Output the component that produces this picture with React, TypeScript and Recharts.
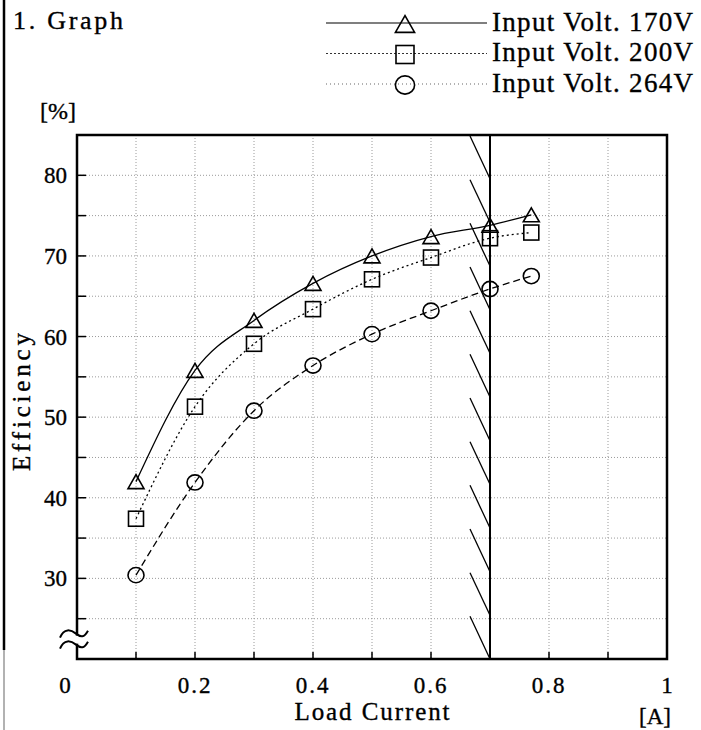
import React from 'react';
import {
  LineChart,
  Line,
  XAxis,
  YAxis,
  CartesianGrid,
  Legend,
  ReferenceArea,
  ReferenceLine,
  ReferenceDot,
  Label,
} from 'recharts';

// values
const loadCurrent = [0.1, 0.2, 0.3, 0.4, 0.5, 0.6, 0.7, 0.77];
const eff170 = [42.0, 55.8, 62.0, 66.6, 70.0, 72.4, 73.8, 75.1];
const eff200 = [37.4, 51.3, 59.1, 63.4, 67.1, 69.8, 72.2, 72.9];
const eff264 = [30.4, 41.9, 50.8, 56.4, 60.3, 63.2, 65.9, 67.5];

const xTicks = [0, 0.1, 0.2, 0.3, 0.4, 0.5, 0.6, 0.7, 0.8, 0.9, 1];
const xTickLabels = ['0', '', '0.2', '', '0.4', '', '0.6', '', '0.8', '', '1'];
const yTicks = [25, 30, 35, 40, 45, 50, 55, 60, 65, 70, 75, 80];
const yTickLabels = ['', '30', '', '40', '', '50', '', '60', '', '70', '', '80'];

const ratedCurrent = 0.7;
const breakLevel = 22.4;

const data = loadCurrent.map((c, i) => ({
  current: c,
  v170: eff170[i],
  v200: eff200[i],
  v264: eff264[i],
}));

const series = [
  { key: 'v170', name: 'Input Volt. 170V', marker: 'triangle', dash: undefined, legendDash: undefined, legendColor: '#000' },
  { key: 'v200', name: 'Input Volt. 200V', marker: 'square', dash: '2 3', legendDash: '2 2', legendColor: '#333' },
  { key: 'v264', name: 'Input Volt. 264V', marker: 'circle', dash: '7 4', legendDash: '1 3', legendColor: '#666' },
];

const FONT = '"Liberation Serif", "DejaVu Serif", serif';
const INK = { fill: '#000', stroke: '#000', strokeWidth: 0.35 };

function Marker({ shape, cx, cy, s = 1 }: { shape: string; cx: number; cy: number; s?: number }) {
  const common = { fill: 'none', stroke: '#000', strokeWidth: 1.6 };
  if (shape === 'triangle') {
    const pts = `${cx},${cy - 7 * s} ${cx - 8 * s},${cy + 7 * s} ${cx + 8 * s},${cy + 7 * s}`;
    return <polygon points={pts} {...common} />;
  }
  if (shape === 'square') {
    return <rect x={cx - 7.5 * s} y={cy - 7.5 * s} width={15 * s} height={15 * s} {...common} />;
  }
  return <ellipse cx={cx} cy={cy} rx={8 * s} ry={7.6 * s} {...common} />;
}

const XTick = (props: any) => {
  const { x, y, index } = props;
  const label = xTickLabels[index];
  const inner = index > 0 && index < xTicks.length - 1;
  return (
    <g>
      {inner && <line x1={x} x2={x} y1={y} y2={y - 7} stroke="#000" strokeWidth={1.5} />}
      {label && (
        <text
          x={index === 0 ? x - 12 : x}
          y={y + 34}
          textAnchor="middle"
          fontFamily={FONT}
          fontSize={23}
          letterSpacing={label.length > 1 ? 2 : 0}
          {...INK}
        >
          {label}
        </text>
      )}
    </g>
  );
};

const YTick = (props: any) => {
  const { x, y, index } = props;
  const label = yTickLabels[index];
  return (
    <g>
      <line x1={x} x2={x + 9} y1={y} y2={y} stroke="#000" strokeWidth={1.5} />
      {label && (
        <text x={x - 10} y={y + 8} textAnchor="end" fontFamily={FONT} fontSize={23} {...INK}>
          {label}
        </text>
      )}
    </g>
  );
};

// vertical limit line with hatching on its left side
const HatchedLimit = (props: any) => {
  const { x1, y1, y2 } = props;
  const top = Math.min(y1, y2);
  const bottom = Math.max(y1, y2);
  const n = 12;
  const step = (bottom - top) / n;
  const hatches = [];
  for (let i = 0; i < n; i++) {
    hatches.push(
      <line
        key={i}
        x1={x1 - 20}
        y1={top + i * step + 1}
        x2={x1}
        y2={top + (i + 1) * step}
        stroke="#000"
        strokeWidth={1.3}
      />
    );
  }
  return (
    <g>
      <line x1={x1} x2={x1} y1={top} y2={bottom} stroke="#000" strokeWidth={2} />
      {hatches}
    </g>
  );
};

// "≈" break mark on the y axis
const AxisBreak = (props: any) => {
  const { cx, cy } = props;
  const wave = (dy: number) =>
    `M${cx - 17},${cy + dy + 2} C${cx - 13},${cy + dy - 8} ${cx - 6},${cy + dy - 6} ${cx - 1},${cy + dy - 2} S${cx + 7},${cy + dy + 2} ${cx + 11},${cy + dy - 5}`;
  return (
    <g>
      <rect x={cx - 3} y={cy - 4} width={6} height={8} fill="#fff" />
      <path d={wave(-4)} fill="none" stroke="#000" strokeWidth={2} />
      <path d={wave(7)} fill="none" stroke="#000" strokeWidth={2} />
    </g>
  );
};

const renderLegend = (props: any) => {
  const payload = props.payload || [];
  const rows = series.map((s) => {
    const entry = payload.find((p: any) => p.dataKey === s.key);
    return { ...s, name: entry ? entry.value : s.name };
  });
  return (
    <svg width={381} height={100} style={{ display: 'block' }}>
      {rows.map((s, i) => {
        const y = 23 + i * 30.5;
        return (
          <g key={s.key}>
            <line x1={6} x2={167} y1={y} y2={y} stroke={s.legendColor} strokeWidth={1.2} strokeDasharray={s.legendDash} />
            <Marker shape={s.marker} cx={85} cy={y + 1} s={1.2} />
            <text x={172} y={y + 7.5} fontFamily={FONT} fontSize={27} textLength={201} lengthAdjust="spacing" {...INK}>
              {s.name}
            </text>
          </g>
        );
      })}
    </svg>
  );
};

const XTitle = (props: any) => {
  const vb = props.viewBox || { x: 77, y: 659, width: 590, height: 71 };
  return (
    <text x={vb.x + vb.width / 2} y={vb.y + 61} textAnchor="middle" fontFamily={FONT} fontSize={25} textLength={155} lengthAdjust="spacing" {...INK}>
      Load Current
    </text>
  );
};

const YTitle = (props: any) => {
  const vb = props.viewBox || { x: 0, y: 135, width: 77, height: 524 };
  const cx = 21;
  const cy = vb.y + vb.height / 2 + 5;
  return (
    <text
      x={cx}
      y={cy}
      transform={`rotate(-90, ${cx}, ${cy})`}
      textAnchor="middle"
      dominantBaseline="central"
      fontFamily={FONT}
      fontSize={25}
      textLength={138}
      lengthAdjust="spacing"
      {...INK}
    >
      Efficiency
    </text>
  );
};

export default function App() {
  return (
    <div style={{ position: 'absolute', left: 0, top: 0, width: 701, height: 730, background: '#fff' }}>
      <LineChart width={701} height={730} data={data} margin={{ top: 135, right: 34, bottom: 0, left: 0 }}>
        <CartesianGrid stroke="#9a9a9a" strokeDasharray="1 2" strokeWidth={1} />
        <XAxis
          type="number"
          dataKey="current"
          domain={[0, 1]}
          ticks={xTicks}
          interval={0}
          height={71}
          tickSize={0}
          tickMargin={0}
          axisLine={false}
          tickLine={false}
          tick={<XTick />}
          allowDataOverflow
        >
          <Label content={<XTitle />} />
        </XAxis>
        <YAxis
          type="number"
          domain={[20, 85]}
          ticks={yTicks}
          interval={0}
          width={77}
          tickSize={0}
          tickMargin={0}
          axisLine={false}
          tickLine={false}
          tick={<YTick />}
          allowDataOverflow
        >
          <Label content={<YTitle />} />
        </YAxis>
        <Legend
          layout="horizontal"
          verticalAlign="middle"
          align="center"
          content={renderLegend}
          wrapperStyle={{ position: 'absolute', left: 320, top: 0, width: 381, height: 100 }}
        />
        {series.map((s) => (
          <Line
            key={s.key}
            type="monotone"
            dataKey={s.key}
            name={s.name}
            stroke="#000"
            strokeWidth={1.3}
            strokeDasharray={s.dash}
            isAnimationActive={false}
            activeDot={false}
            dot={(p: any) => <Marker key={`${s.key}-${p.index}`} shape={s.marker} cx={p.cx} cy={p.cy} />}
          />
        ))}
        <ReferenceLine x={ratedCurrent} shape={HatchedLimit} />
        <ReferenceArea x1={0} x2={1} y1={20} y2={85} fill="none" fillOpacity={0} stroke="#000" strokeWidth={2.5} ifOverflow="visible" />
        <ReferenceDot x={0} y={breakLevel} r={1} shape={AxisBreak} ifOverflow="visible" />
      </LineChart>
      <svg
        width={701}
        height={730}
        style={{ position: 'absolute', left: 0, top: 0, pointerEvents: 'none' }}
      >
        <line x1={4} x2={4} y1={0} y2={650} stroke="#000" strokeWidth={2.5} />
        <line x1={4} x2={4} y1={650} y2={730} stroke="#999" strokeWidth={1.5} />
        <text x={13} y={29} fontFamily={FONT} fontSize={26} textLength={110} lengthAdjust="spacing" {...INK}>
          1. Graph
        </text>
        <text x={40} y={119} fontFamily={FONT} fontSize={24} {...INK}>
          [%]
        </text>
        <text x={655} y={724} textAnchor="middle" fontFamily={FONT} fontSize={23} {...INK}>
          [A]
        </text>
      </svg>
    </div>
  );
}
